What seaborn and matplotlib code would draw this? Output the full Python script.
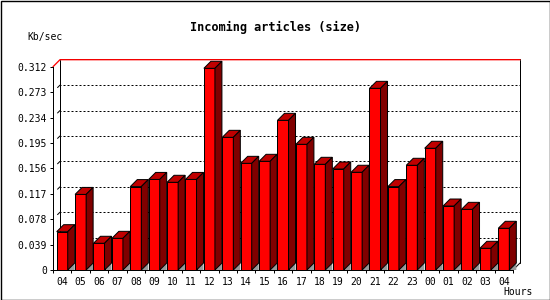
import numpy as np
import pandas as pd
import matplotlib
matplotlib.use("Agg")
import matplotlib.pyplot as plt
import seaborn as sns
from matplotlib.patches import Polygon, Rectangle

# ---- data ----
hours = ["04", "05", "06", "07", "08", "09", "10", "11", "12", "13", "14", "15",
         "16", "17", "18", "19", "20", "21", "22", "23", "00", "01", "02", "03", "04"]
values = [0.0588, 0.116, 0.041, 0.0486, 0.128, 0.139, 0.1346, 0.139, 0.3095,
          0.2036, 0.1637, 0.1668, 0.2297, 0.1929, 0.1622, 0.155, 0.150, 0.2788,
          0.128, 0.1607, 0.1868, 0.0982, 0.0931, 0.0333, 0.064]
ytick_vals = [0, 0.039, 0.078, 0.117, 0.156, 0.195, 0.234, 0.273, 0.312]
ytick_labels = ["0", "0.039", "0.078", "0.117", "0.156", "0.195", "0.234", "0.273", "0.312"]
title = "Incoming articles (size)"
ylabel = "Kb/sec"
xlabel = "Hours"

df = pd.DataFrame({"slot": list(range(len(values))), "value": values})

sns.set_style("white")
plt.rcParams["font.family"] = ["DejaVu Sans Mono"]

W, H = 550, 300
fig = plt.figure(figsize=(5.5, 3), dpi=100)
fig.patch.set_facecolor("white")
ax_left, ax_right, ax_bottom, ax_top = 53, 513, 270, 66.7
ax = fig.add_axes([ax_left / W, (H - ax_bottom) / H,
                   (ax_right - ax_left) / W, (ax_bottom - ax_top) / H])
ax.set_facecolor("none")

PX = 0.72  # one pixel in points
sns.barplot(data=df, x="slot", y="value", color="#ff0000", saturation=1,
            width=0.6, edgecolor="black", linewidth=PX, ax=ax, zorder=3)

n = len(values)
ymax = ytick_vals[-1]
ax.set_xlim(-0.5, n - 0.5)
ax.set_ylim(0, ymax)

# depth offset (7 px) in data units
depth_px = 7
dx = depth_px * n / (ax_right - ax_left)
dy = depth_px * ymax / (ax_bottom - ax_top)

# 3D faces
for p in ax.patches[:n]:
    x0 = p.get_x()
    w = p.get_width()
    h = p.get_height()
    x1 = x0 + w
    top = Polygon([(x0, h), (x1, h), (x1 + dx, h + dy), (x0 + dx, h + dy)],
                  closed=True, facecolor="#c00000", edgecolor="black",
                  linewidth=PX, zorder=3, clip_on=False)
    side = Polygon([(x1, 0), (x1, h), (x1 + dx, h + dy), (x1 + dx, dy)],
                   closed=True, facecolor="#800000", edgecolor="black",
                   linewidth=PX, zorder=3, clip_on=False)
    shadow = Polygon([(x1, 0), (x1 + dx, dy), (x1 + dx, 0)], closed=True,
                     facecolor="#999999", edgecolor="none", zorder=2.9,
                     clip_on=False)
    ax.add_patch(shadow)
    ax.add_patch(top)
    ax.add_patch(side)

xl, xr = -0.5, n - 0.5
# back-wall grid lines and left stubs
for v in ytick_vals[1:-1]:
    ax.plot([xl + dx, xr + dx], [v + dy, v + dy], color="black", lw=PX,
            linestyle=(1, (2, 2)), zorder=1, clip_on=False)
    ax.plot([xl + 0.65 * dx, xl + dx], [v + 0.65 * dy, v + dy], color="black",
            lw=PX, zorder=1, clip_on=False)
# back wall frame
ax.plot([xl + dx, xl + dx], [dy, ymax + dy], color="black", lw=PX, zorder=1, clip_on=False)
ax.plot([xr + dx, xr + dx], [dy, ymax + dy], color="black", lw=PX, zorder=1, clip_on=False)
ax.plot([xr, xr + dx], [0, dy], color="black", lw=PX, zorder=1, clip_on=False)
# top edge (black then red)
ax.plot([xl + dx, xr + dx], [ymax + dy * 1.07, ymax + dy * 1.07], color="black",
        lw=PX, zorder=1, clip_on=False)
ax.plot([xl, xl + dx, xr + dx], [ymax, ymax + dy, ymax + dy], color="#ff0000",
        lw=PX * 1.3, zorder=1.1, clip_on=False)

# spines
for s in ["top", "right"]:
    ax.spines[s].set_visible(False)
for s in ["left", "bottom"]:
    ax.spines[s].set_color("black")
    ax.spines[s].set_linewidth(PX)

ax.set_yticks(ytick_vals, ytick_labels)
ax.set_xticks(range(n), hours)
ax.set_xticks(np.arange(-0.5, n, 1), minor=True)
ax.tick_params(axis="y", direction="out", length=3 * PX, width=PX, pad=2,
               labelsize=7, colors="black", left=True)
ax.tick_params(axis="x", which="major", length=0, pad=5, labelsize=7,
               colors="black")
ax.tick_params(axis="x", which="minor", direction="out", length=3 * PX,
               width=PX, colors="black", bottom=True)
ax.set_xlabel("")
ax.set_ylabel("")

fig.text(275 / W, 1 - 27 / H, title, ha="center", va="center",
         fontsize=8.6, fontweight="bold", color="black")
fig.text(45 / W, 1 - 37 / H, ylabel, ha="center", va="center",
         fontsize=7, color="black")
fig.text(518 / W, 1 - 292 / H, xlabel, ha="center", va="center",
         fontsize=7, color="black")

fig.patches.append(Rectangle((0.5 / W, 0.5 / H), 1 - 1 / W, 1 - 1 / H,
                             transform=fig.transFigure, fill=False,
                             edgecolor="black", linewidth=PX * 1.4, zorder=10))

fig.savefig("out.png", dpi=100)
